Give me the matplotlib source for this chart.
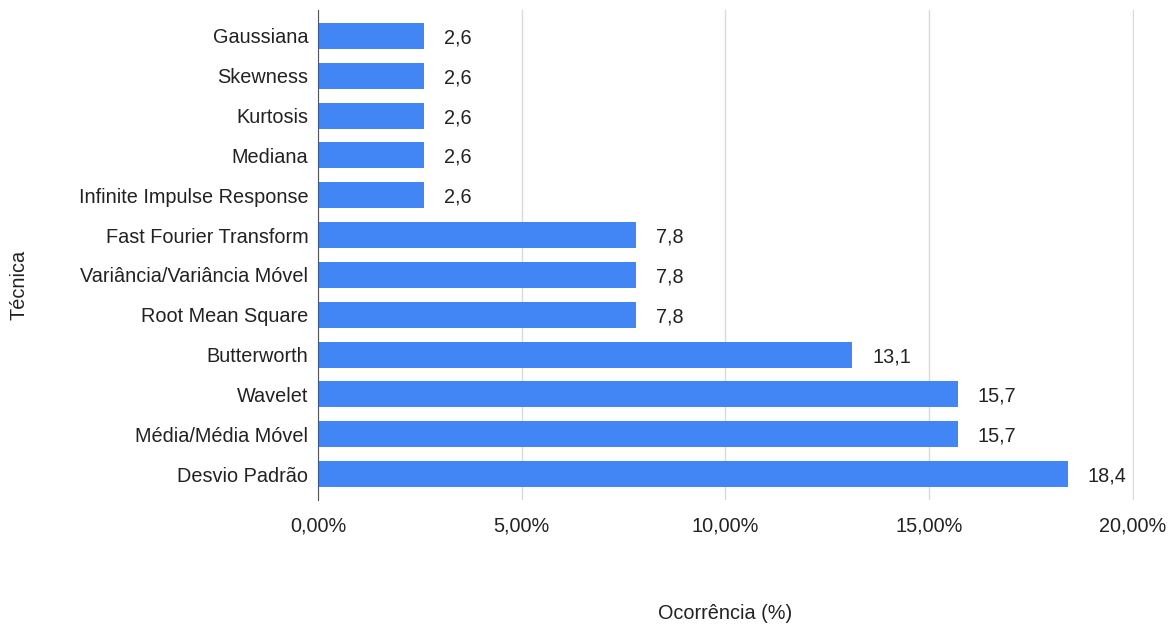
import matplotlib.pyplot as plt
from matplotlib.ticker import FuncFormatter

plt.rcParams['font.family'] = ['Liberation Sans', 'DejaVu Sans']

tecnicas = ['Gaussiana', 'Skewness', 'Kurtosis', 'Mediana', 'Infinite Impulse Response',
            'Fast Fourier Transform', 'Variância/Variância Móvel', 'Root Mean Square',
            'Butterworth', 'Wavelet', 'Média/Média Móvel', 'Desvio Padrão']
ocorrencia = [2.6, 2.6, 2.6, 2.6, 2.6, 7.8, 7.8, 7.8, 13.1, 15.7, 15.7, 18.4]
x_ticks = [0, 5, 10, 15, 20]

fig = plt.figure(figsize=(11.76, 6.26), dpi=100)
ax = fig.add_axes([0.2704, 0.2013, 0.6939, 0.7827])

pos = list(range(len(tecnicas)))
ax.barh(pos, ocorrencia, height=0.65, color='#4285F4', zorder=3)
for p, v in zip(pos, ocorrencia):
    ax.text(v + 0.5, p, f'{v:.1f}'.replace('.', ','), va='center_baseline', ha='left',
            fontsize=14.3, color='#222222')

ax.set_ylim(len(tecnicas) - 0.35, -0.65)
ax.set_xlim(0, 20.03)
ax.set_yticks(pos)
ax.set_yticklabels(tecnicas, fontsize=14.3, color='#222222')
ax.set_xticks(x_ticks)
ax.xaxis.set_major_formatter(FuncFormatter(lambda v, _: f'{v:.2f}'.replace('.', ',') + '%'))
ax.tick_params(axis='x', labelsize=14.3, colors='#222222', length=0, pad=12)
ax.tick_params(axis='y', length=0, pad=7)
ax.grid(axis='x', color='#d9d9d9', linewidth=1, zorder=0)

for s in ['top', 'right', 'bottom']:
    ax.spines[s].set_visible(False)
ax.spines['left'].set_color('#555555')
ax.spines['left'].set_zorder(4)

fig.text(0.617, 0.020, 'Ocorrência (%)', ha='center', va='center', fontsize=14.3, color='#222222')
fig.text(0.016, 0.545, 'Técnica', ha='center', va='center', rotation=90, fontsize=14.3, color='#222222')

fig.savefig('out.png', dpi=100)
